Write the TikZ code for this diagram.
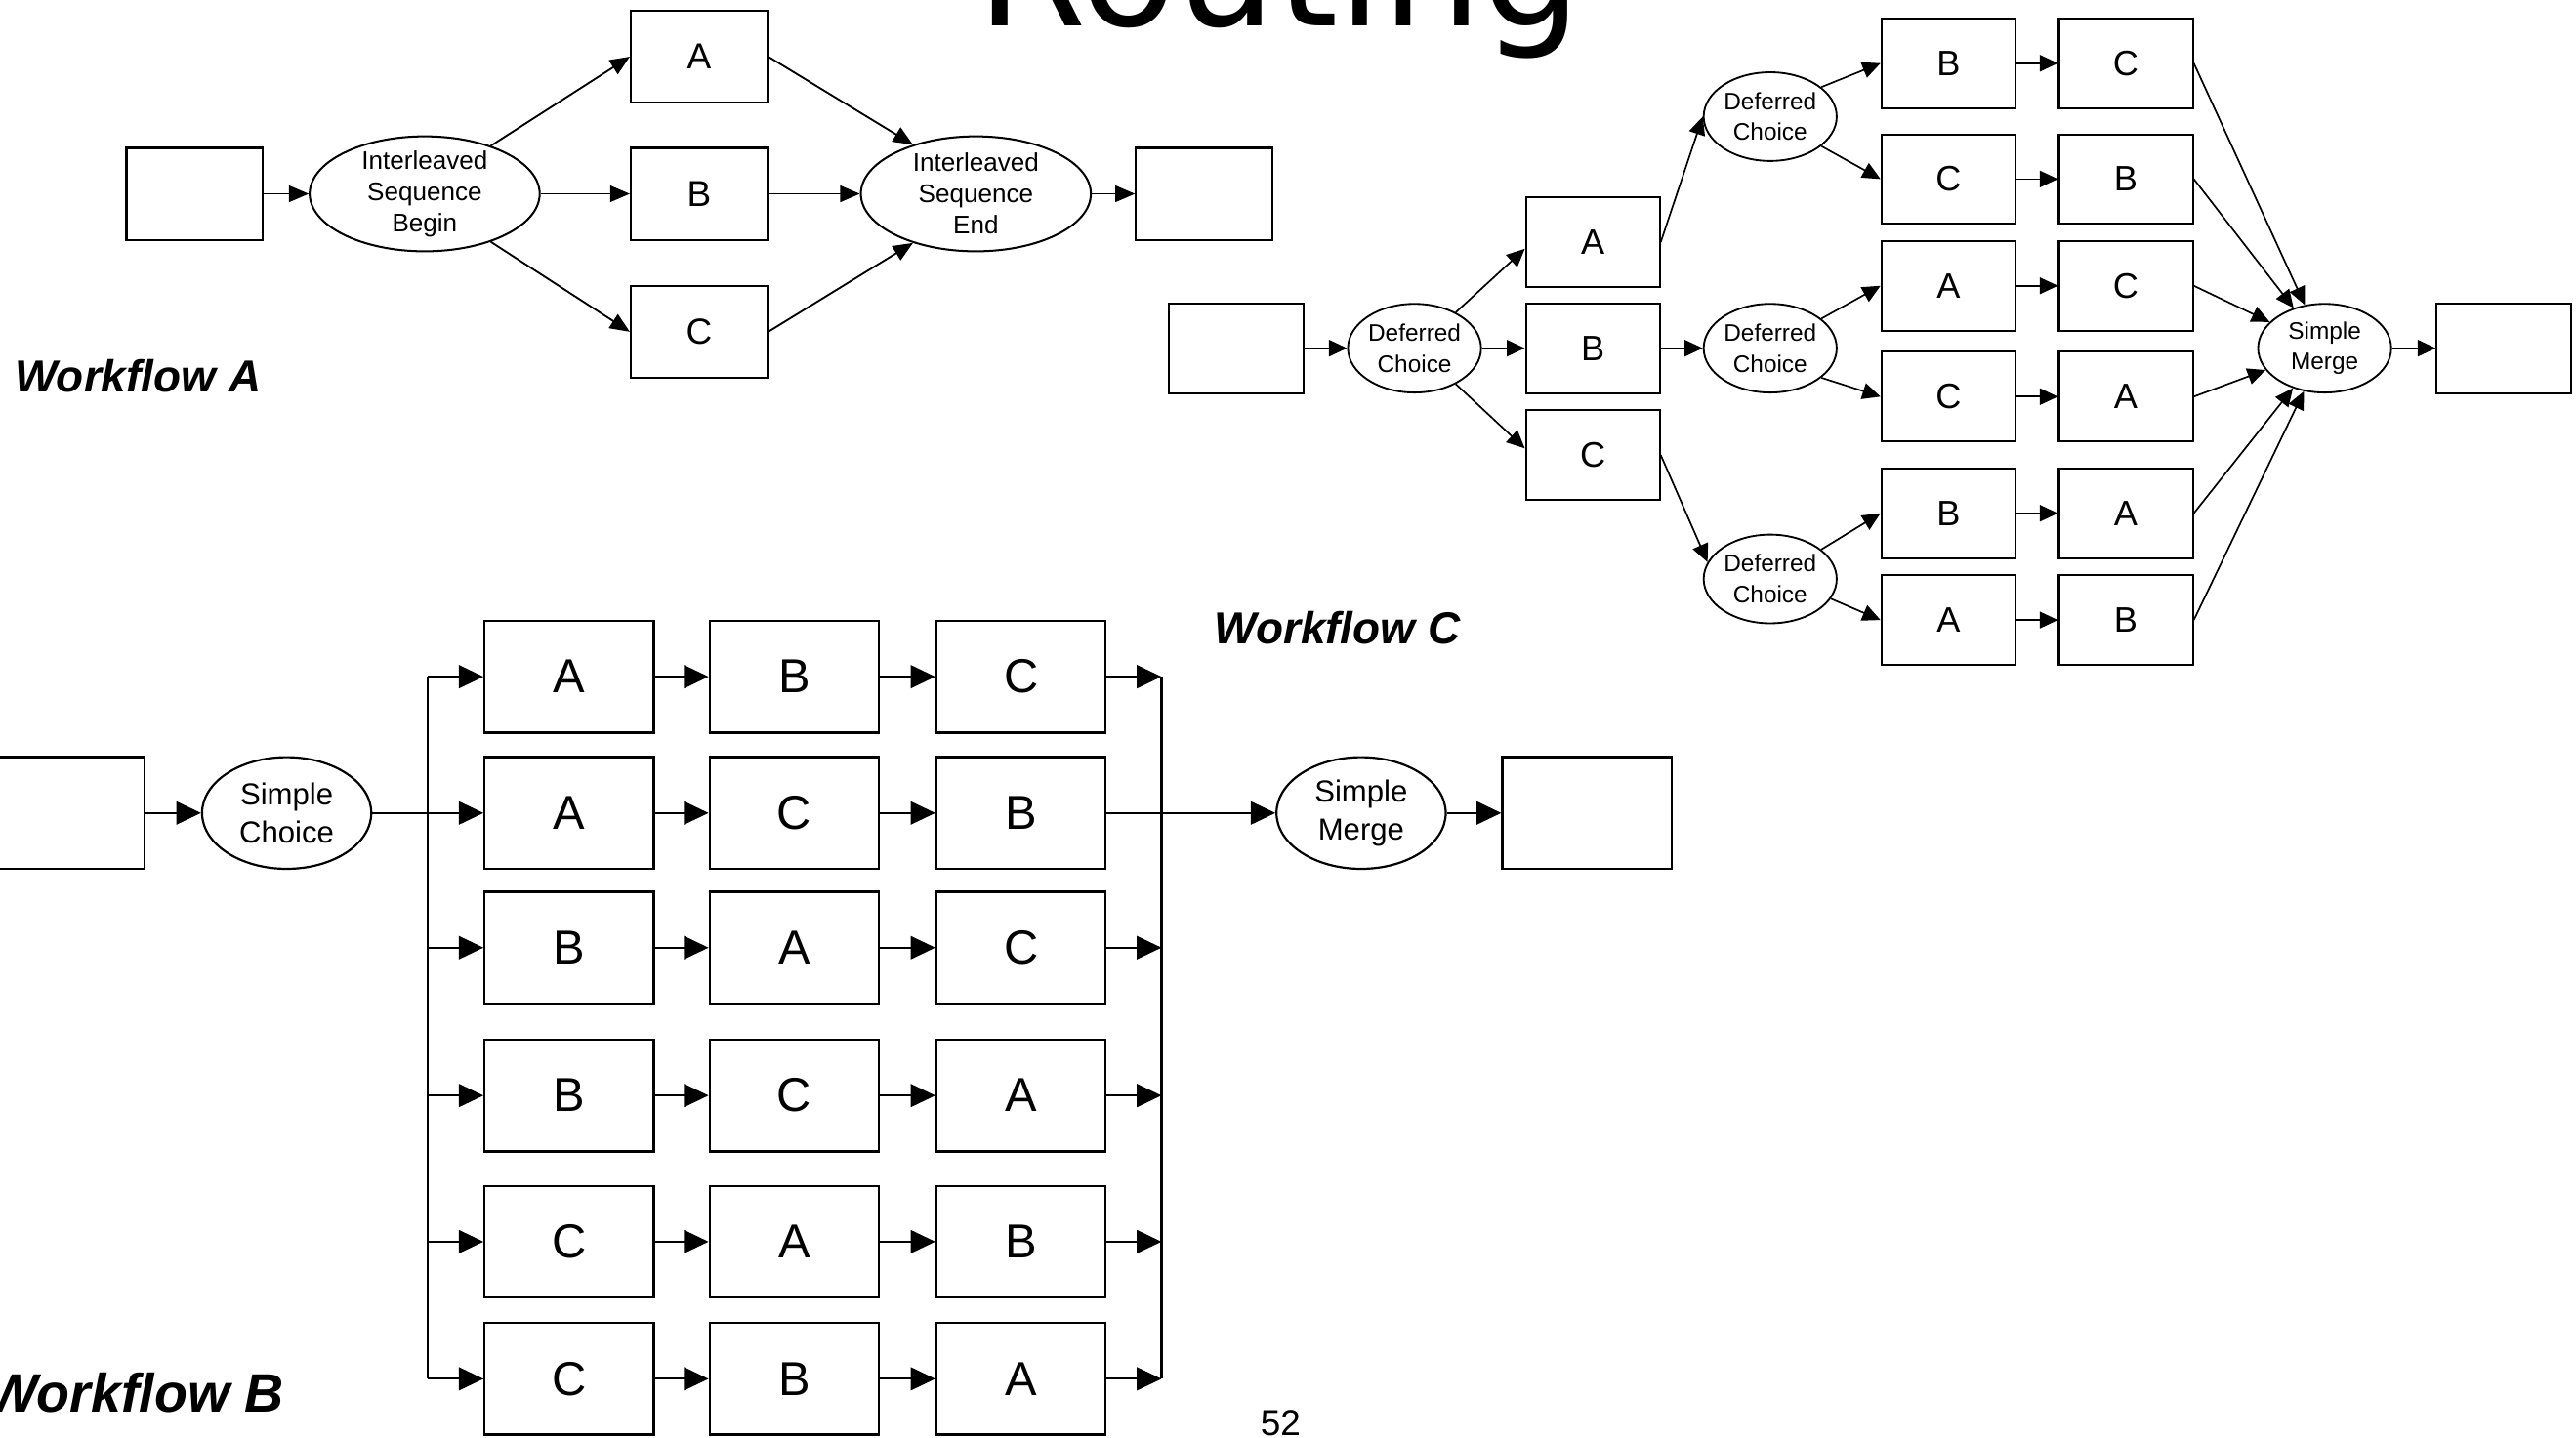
\documentclass[tikz,border=0pt]{standalone}
\usepackage{fontspec}
\setmainfont{Liberation Sans}
\newfontfamily\titlefont{DejaVu Sans}
\usetikzlibrary{arrows.meta,shapes.geometric}
\begin{document}
\begin{tikzpicture}[x=1pt,y=-1pt,
  boxa/.style={draw,line width=1.3pt,minimum width=83pt,minimum height=56pt,inner sep=0pt,font=\fontsize{22}{22}\selectfont},
  boxc/.style={draw,line width=1.2pt,minimum width=81.5pt,minimum height=54.5pt,inner sep=0pt,font=\fontsize{21.5}{21.5}\selectfont},
  boxb/.style={draw,line width=1.4pt,minimum width=103pt,minimum height=68pt,inner sep=0pt,font=\fontsize{29}{29}\selectfont},
  ella/.style={draw,ellipse,line width=1.2pt,minimum width=140pt,minimum height=70pt,inner sep=0pt,
    label={[align=center,font=\fontsize{15.5}{19}\selectfont]center:#1}},
  ellc/.style={draw,ellipse,line width=1.1pt,minimum width=81pt,minimum height=54pt,inner sep=0pt,
    label={[align=center,font=\fontsize{14.5}{18.8}\selectfont]center:#1}},
  ellb/.style={draw,ellipse,line width=1.3pt,minimum width=103pt,minimum height=68pt,inner sep=0pt,
    label={[align=center,font=\fontsize{18.5}{22.8}\selectfont]center:#1}},
  arra/.style={line width=1.1pt,-{Triangle[length=12pt,width=10pt]}},
  arrc/.style={line width=1pt,-{Triangle[length=11pt,width=10pt]}},
  arrb/.style={line width=1.3pt,-{Triangle[length=15pt,width=14pt]}},
  lnb/.style={line width=1.3pt},
  wf/.style={font=\fontsize{27.3}{30}\selectfont\bfseries\itshape}
]
\useasboundingbox (0,0) rectangle (1568,875);

% title (cut off at the top)
\node[anchor=base,inner sep=0pt,font=\titlefont\fontsize{96}{96}\selectfont] (title) at (779,16) {Routing};

% ---------------- Workflow A ----------------
\node[boxa] (sa) at (118.5,118) {};
\node[ella={Interleaved\\Sequence\\Begin}] (ib) at (258.5,118) {};
\node[boxa] (a1) at (425.5,34.5) {A};
\node[boxa] (b1) at (425.5,118) {B};
\node[boxa] (c1) at (425.5,202) {C};
\node[ella={Interleaved\\Sequence\\End}] (ie) at (594,118) {};
\node[boxa] (ea) at (733,118) {};
\draw[arra] (sa) -- (ib);
\draw[arra] (ib.36) -- (a1.west);
\draw[arra] (ib) -- (b1);
\draw[arra] (ib.-36) -- (c1.west);
\draw[arra] (a1.east) -- (ie.142);
\draw[arra] (b1) -- (ie);
\draw[arra] (c1.east) -- (ie.-142);
\draw[arra] (ie) -- (ea);
\node[wf] (wfa) at (84,229) {Workflow A};

% ---------------- Workflow C ----------------
\node[boxc] (sc) at (752.5,212) {};
\node[ellc={Deferred\\Choice}] (dc1) at (861,212) {};
\node[boxc] (ca) at (969.5,147.5) {A};
\node[boxc] (cb) at (969.5,212) {B};
\node[boxc] (cc) at (969.5,277) {C};
\node[ellc={Deferred\\Choice}] (dct) at (1077.5,71) {};
\node[ellc={Deferred\\Choice}] (dcm) at (1077.5,212) {};
\node[ellc={Deferred\\Choice}] (dcb) at (1077.5,352.5) {};
\foreach \i/\y/\p/\q in {1/38.5/B/C, 2/109/C/B, 3/174/A/C, 4/241.5/C/A, 5/312.5/B/A, 6/377.5/A/B}{
  \node[boxc] (r\i a) at (1186,\y) {\p};
  \node[boxc] (r\i b) at (1294,\y) {\q};
}
\node[ellc={Simple\\Merge}] (smc) at (1415,212) {};
\node[boxc] (ec) at (1524,212) {};
\draw[arrc] (sc) -- (dc1);
\draw[arrc] (dc1.41) -- ([yshift=-4pt]ca.west);
\draw[arrc] (dc1) -- (cb);
\draw[arrc] (dc1.-41) -- ([yshift=4pt]cc.west);
\draw[arrc] (ca.east) -- (dct.west);
\draw[arrc] (cb) -- (dcm);
\draw[arrc] (cc.east) -- (dcb.165);
\draw[arrc] (dct.30) -- (r1a.west);
\draw[arrc] (dct.-30) -- (r2a.west);
\draw[arrc] (dcm.30) -- (r3a.west);
\draw[arrc] (dcm.-30) -- (r4a.west);
\draw[arrc] (dcb.30) -- (r5a.west);
\draw[arrc] (dcb.-18) -- (r6a.west);
\foreach \i in {1,...,6}{
  \draw[arrc] (r\i a) -- (r\i b);
  \draw[arrc] (r\i b.east) -- (smc);
}
\draw[arrc] (smc) -- (ec);
\node[wf] (wfc) at (814,382) {Workflow C};

% ---------------- Workflow B ----------------
\node[boxb] (sb) at (36.5,495) {};
\node[ellb={Simple\\Choice}] (sch) at (174.5,495) {};
\foreach \i/\y/\p/\q/\r in {1/412/A/B/C, 2/495/A/C/B, 3/577/B/A/C, 4/667/B/C/A, 5/756/C/A/B, 6/839.5/C/B/A}{
  \node[boxb] (k\i a) at (346.5,\y) {\p};
  \node[boxb] (k\i b) at (483.5,\y) {\q};
  \node[boxb] (k\i c) at (621.5,\y) {\r};
  \draw[arrb] (k\i a) -- (k\i b);
  \draw[arrb] (k\i b) -- (k\i c);
}
\node[ellb={Simple\\Merge}] (smb) at (828.5,495) {};
\node[boxb] (eb) at (966,495) {};
\coordinate (lt) at (260.5,412);
\coordinate (lb) at (260.5,839.5);
\coordinate (rt) at (707,412);
\coordinate (rb) at (707,839.5);
\draw[lnb] (lt) -- (lb);
\draw[lnb] (rt) -- (rb);
\draw[arrb] (sb) -- (sch);
\draw[arrb] (sch) -- (k2a);
\draw[arrb] (k2c) -- (smb);
\draw[arrb] (smb) -- (eb);
\foreach \i in {1,3,4,5,6}{
  \draw[arrb] (k\i a.west -| lt) -- (k\i a.west);
  \draw[arrb] (k\i c.east) -- (k\i c.east -| rt);
}
\node[wf,font=\fontsize{33}{36}\selectfont\bfseries\itshape,anchor=base east,inner sep=0pt] (wfb) at (173,860) {Workflow B};

\node[anchor=base,inner sep=0pt,font=\fontsize{22}{22}\selectfont] (pg) at (779.5,874) {52};
\end{tikzpicture}
\end{document}
